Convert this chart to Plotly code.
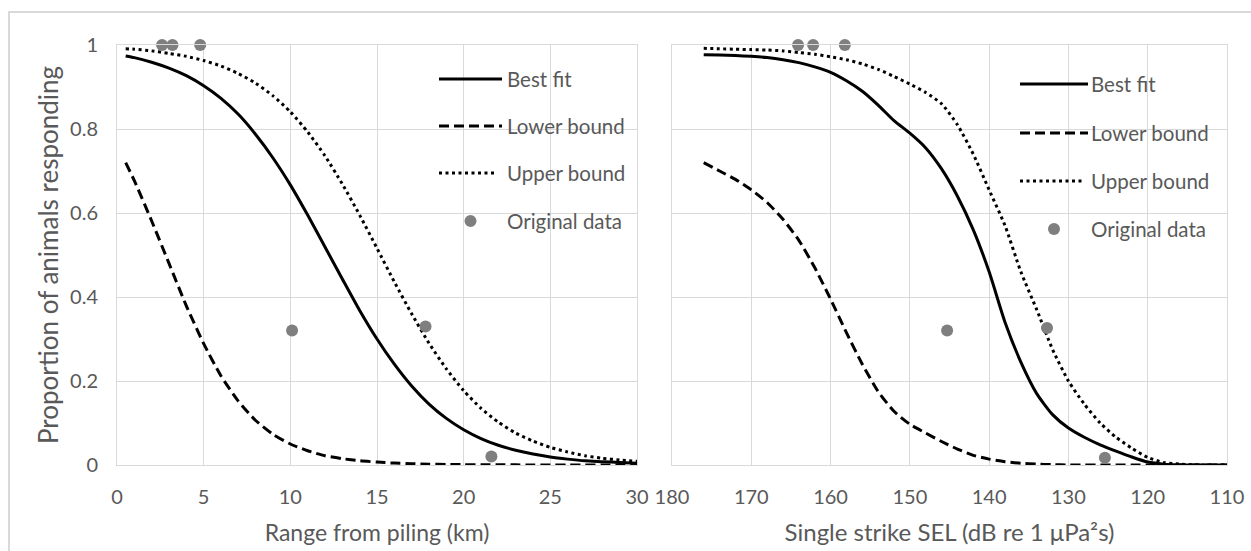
import plotly.graph_objects as go

# ---------------- data ----------------
range_km = [0.5, 1, 2, 3, 4, 5, 6, 7, 8, 9, 10, 11, 12, 13, 14, 15, 16, 17, 18, 19, 20,
            21, 22, 23, 24, 25, 26, 27, 28, 29, 30]
range_best = [0.974, 0.970, 0.959, 0.945, 0.927, 0.903, 0.873, 0.835, 0.787, 0.731, 0.667,
              0.595, 0.519, 0.443, 0.368, 0.300, 0.240, 0.188, 0.145, 0.111, 0.084,
              0.063, 0.047, 0.035, 0.026, 0.019, 0.014, 0.010, 0.008, 0.006, 0.004]
range_lower = [0.72, 0.677, 0.581, 0.480, 0.379, 0.289, 0.212, 0.152, 0.106, 0.073, 0.050,
               0.034, 0.022, 0.015, 0.010, 0.007, 0.0045, 0.003, 0.002, 0.0013, 0.0009,
               0.0006, 0.0004, 0.0003, 0.0002, 0.0001, 0, 0, 0, 0, 0]
range_upper = [0.991, 0.990, 0.986, 0.980, 0.973, 0.963, 0.950, 0.932, 0.909, 0.879, 0.841,
               0.793, 0.736, 0.669, 0.595, 0.516, 0.436, 0.360, 0.290, 0.229, 0.177,
               0.135, 0.102, 0.076, 0.057, 0.042, 0.031, 0.022, 0.016, 0.012, 0.009]
range_obs_x = [2.6, 3.2, 4.8, 10.1, 17.8, 21.6]
range_obs_y = [1.0, 1.0, 1.0, 0.32, 0.33, 0.02]

sel_db = [176, 174, 172, 170, 168, 166, 164, 162, 160, 158, 156, 154, 152, 150, 148, 146,
          144, 142, 140, 138, 136, 134, 132, 130, 128, 126, 124, 122, 120, 118, 116, 114,
          112, 110]
sel_best = [0.977, 0.976, 0.975, 0.973, 0.970, 0.965, 0.958, 0.948, 0.935, 0.915, 0.89,
            0.857, 0.82, 0.79, 0.755, 0.705, 0.64, 0.56, 0.46, 0.34, 0.245, 0.17, 0.12,
            0.088, 0.066, 0.048, 0.033, 0.019, 0.007, 0.002, 0.0005, 0, 0, 0]
sel_lower = [0.72, 0.70, 0.68, 0.655, 0.625, 0.585, 0.535, 0.47, 0.395, 0.315, 0.24, 0.175,
             0.128, 0.097, 0.076, 0.056, 0.038, 0.023, 0.014, 0.008, 0.004, 0.002, 0.001,
             0, 0, 0, 0, 0, 0, 0, 0, 0, 0, 0]
sel_upper = [0.992, 0.991, 0.990, 0.989, 0.988, 0.986, 0.982, 0.978, 0.972, 0.965, 0.955,
             0.942, 0.925, 0.907, 0.887, 0.86, 0.81, 0.74, 0.655, 0.57, 0.46, 0.37, 0.275,
             0.2, 0.145, 0.1, 0.066, 0.04, 0.018, 0.006, 0.002, 0.0005, 0, 0]
sel_obs_x = [164.1, 162.2, 158.2, 145.3, 132.7, 125.4]
sel_obs_y = [1.0, 1.0, 1.0, 0.32, 0.326, 0.017]

y_ticks = [0, 0.2, 0.4, 0.6, 0.8, 1]
y_tick_text = ["0", "0.2", "0.4", "0.6", "0.8", "1"]
legend_names = ["Best fit", "Lower bound", "Upper bound", "Original data"]

# ---------------- styling ----------------
W, H = 1251, 551
ML, MR, MT, MB = 117, 24, 45, 86
PW, PH = W - ML - MR, H - MT - MB
FONT = "Lato"
TXT = "#595959"
GRID = "#d9d9d9"
DOT_COLOR = "#7f7f7f"


def fx(px):
    return (px - ML) / PW


def fy(py):
    return (H - MB - py) / PH


line_styles = [
    dict(color="black", width=3, dash="solid"),
    dict(color="black", width=3, dash="10px,5px"),
    dict(color="black", width=3, dash="3px,3.5px"),
]

fig = go.Figure()

panels = [
    ("x", "y", range_km, [range_best, range_lower, range_upper], range_obs_x, range_obs_y),
    ("x2", "y2", sel_db, [sel_best, sel_lower, sel_upper], sel_obs_x, sel_obs_y),
]
for xa, ya, xs, series, ox, oy in panels:
    for name, ys, st in zip(legend_names[:3], series, line_styles):
        fig.add_trace(go.Scatter(x=xs, y=ys, mode="lines", name=name,
                                 line=dict(shape="spline", smoothing=0.6, **st),
                                 xaxis=xa, yaxis=ya, showlegend=False, cliponaxis=False))
    fig.add_trace(go.Scatter(x=ox, y=oy, mode="markers", name=legend_names[3],
                             marker=dict(color=DOT_COLOR, size=12, line=dict(width=0)),
                             xaxis=xa, yaxis=ya, showlegend=False, cliponaxis=False))

axis_common = dict(showgrid=True, gridcolor=GRID, gridwidth=1, zeroline=False,
                   showline=True, linecolor=GRID, linewidth=1, mirror=True,
                   ticks="", automargin=False,
                   tickfont=dict(family=FONT, size=20, color=TXT))

fig.update_layout(
    width=W, height=H,
    margin=dict(l=ML, r=MR, t=MT, b=MB),
    paper_bgcolor="white", plot_bgcolor="white",
    showlegend=False,
    xaxis=dict(domain=[0, 520 / PW], range=[0, 30], tickvals=[0, 5, 10, 15, 20, 25, 30],
               anchor="y", ticklabelstandoff=14,
               title=dict(text="Range from piling (km)", standoff=17,
                          font=dict(family=FONT, size=23, color=TXT)), **axis_common),
    yaxis=dict(domain=[0, 1], range=[0, 1], tickvals=y_ticks, ticktext=y_tick_text,
               anchor="x", ticklabelstandoff=14,
               title=dict(text="Proportion of animals responding", standoff=3,
                          font=dict(family=FONT, size=26, color=TXT)), **axis_common),
    xaxis2=dict(domain=[555 / PW, 1], range=[180, 110],
                tickvals=[180, 170, 160, 150, 140, 130, 120, 110],
                anchor="y2", ticklabelstandoff=14,
                title=dict(text="Single strike SEL (dB re 1 μPa²s)", standoff=17,
                           font=dict(family=FONT, size=24, color=TXT)), **axis_common),
    yaxis2=dict(domain=[0, 1], range=[0, 1], tickvals=y_ticks, showticklabels=False,
                anchor="x2", **axis_common),
)

# outer chart border (left and top edges visible)
fig.add_shape(type="rect", xref="paper", yref="paper", x0=fx(9), x1=fx(1262), y0=fy(570), y1=fy(12),
              line=dict(color=GRID, width=2), layer="below")

# manual legends
legends = [
    dict(x0=439, x1=502, tx=505, rows=[79, 126, 173, 221]),
    dict(x0=1020, x1=1088, tx=1089, rows=[84, 133, 181, 229]),
]
for lg in legends:
    for i, (name, row) in enumerate(zip(legend_names, lg["rows"])):
        if i < 3:
            st = line_styles[i]
            fig.add_shape(type="line", xref="paper", yref="paper",
                          x0=fx(lg["x0"]), x1=fx(lg["x1"] - (5 if i == 2 else 0)),
                          y0=fy(row), y1=fy(row), line=st)
        else:
            cx = (lg["x0"] + lg["x1"]) / 2
            fig.add_shape(type="circle", xref="paper", yref="paper",
                          x0=fx(cx - 6), x1=fx(cx + 6), y0=fy(row + 6), y1=fy(row - 6),
                          fillcolor=DOT_COLOR, line=dict(width=0))
        fig.add_annotation(x=fx(lg["tx"]), y=fy(row), xref="paper", yref="paper",
                           text=name, showarrow=False, xanchor="left", yanchor="middle",
                           font=dict(family=FONT, size=20.5, color=TXT))

fig.write_html("out.html")
